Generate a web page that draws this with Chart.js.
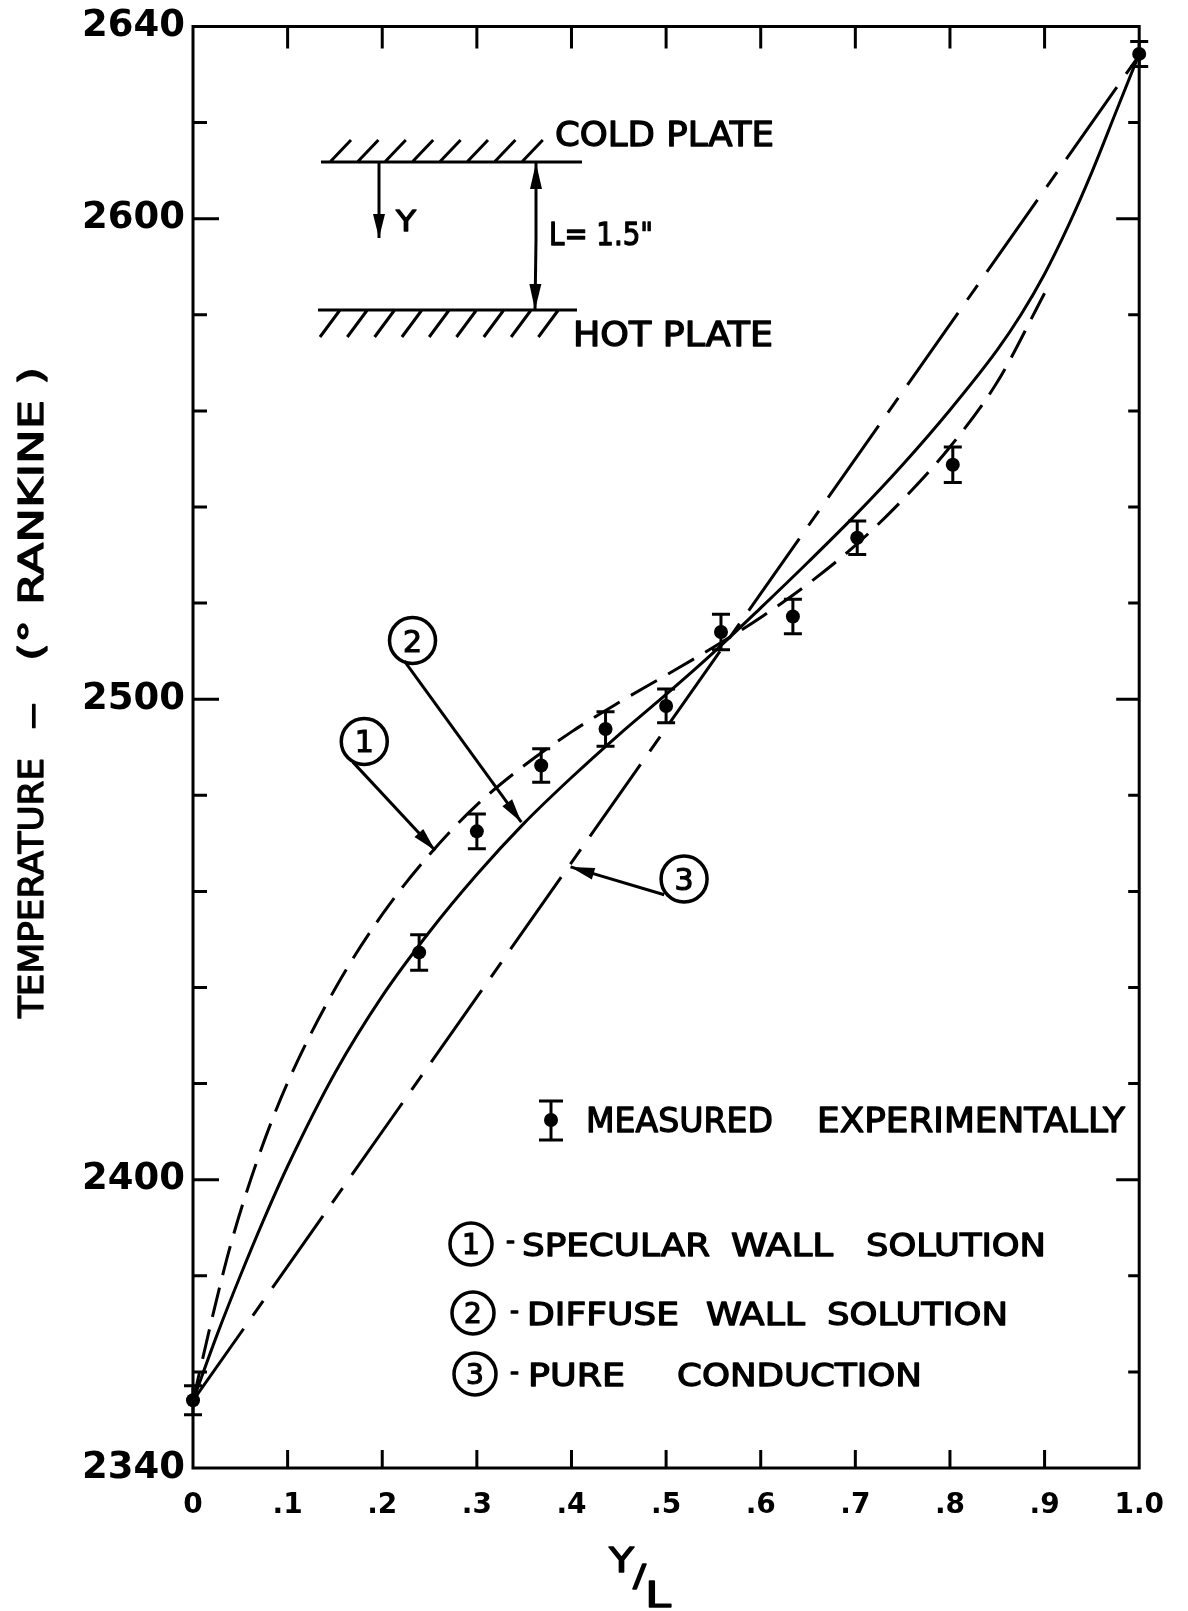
<!DOCTYPE html>
<html lang="en">
<head>
<meta charset="UTF-8">
<title>Temperature vs Y/L</title>
<style>
  body { margin: 0; padding: 0; background: #fff; }
  canvas { display: block; }
</style>
<script src="https://cdn.jsdelivr.net/npm/chart.js"></script>
</head>
<body>
<canvas id="chart" width="1188" height="1611" style="width:1188px;height:1611px"></canvas>
<script>
// ---- values ----
const xTicks = [0, 0.1, 0.2, 0.3, 0.4, 0.5, 0.6, 0.7, 0.8, 0.9, 1.0];
const xTickLabels = ['0', '.1', '.2', '.3', '.4', '.5', '.6', '.7', '.8', '.9', '1.0'];
const yTicks = [2340, 2360, 2380, 2400, 2420, 2440, 2460, 2480, 2500, 2520, 2540, 2560, 2580, 2600, 2620, 2640];
const yTickLabels = ['2340', '', '', '2400', '', '', '', '', '2500', '', '', '', '', '2600', '', '2640'];

// measured points (Y/L, temperature, half error bar)
const measuredX = [0, 0.239, 0.300, 0.368, 0.436, 0.500, 0.558, 0.634, 0.702, 0.803, 1.0];
const measuredT = [2354.1, 2447.3, 2472.5, 2486.2, 2493.8, 2498.6, 2514.0, 2517.2, 2533.6, 2548.8, 2634.3];
const measuredErr = [3.0, 3.7, 3.6, 3.5, 3.6, 3.5, 3.7, 3.6, 3.5, 3.7, 2.6];

// (1) specular wall solution - dashed, stops near Y/L = .9
const specularX = [0, 0.02, 0.04, 0.07, 0.1, 0.15, 0.2, 0.25, 0.3, 0.35, 0.4, 0.45, 0.5, 0.55, 0.6, 0.65, 0.7, 0.75, 0.8, 0.85, 0.9];
const specularT = [2354, 2371, 2386.6, 2405.2, 2420.2, 2439.7, 2455.2, 2467.7, 2478, 2486.2, 2493.2, 2499.3, 2505, 2510.8, 2517, 2524, 2532, 2541.5, 2552.5, 2566, 2584.5];

// (2) diffuse wall solution - solid
const diffuseX = [0, 0.025, 0.05, 0.075, 0.1, 0.15, 0.2, 0.25, 0.3, 0.35, 0.4, 0.45, 0.5, 0.55, 0.6, 0.65, 0.7, 0.75, 0.8, 0.85, 0.875, 0.9, 0.925, 0.95, 0.975, 1.0];
const diffuseT = [2354, 2367.5, 2380, 2391.8, 2402.8, 2422.2, 2438.2, 2451.6, 2463.5, 2474.2, 2483.7, 2492.6, 2501, 2509.7, 2519, 2528.5, 2538.3, 2548.8, 2560.2, 2572.7, 2580, 2588.5, 2598.5, 2609.7, 2622, 2634.3];

// (3) pure conduction - chain line
const conductionX = [0, 1.0];
const conductionT = [2354, 2634];

const FONT = '"DejaVu Sans", sans-serif';
const INK = '#000';

const pts = (xs, ys) => xs.map((x, i) => ({ x: x, y: ys[i] }));

// text helpers: cap height centred on yc, stretched to a width, slightly emboldened
function capText(ctx, text, x, yc, size, width) {
  ctx.font = size + 'px ' + FONT;
  const w = ctx.measureText(text).width;
  ctx.save();
  ctx.translate(x, yc + size * 0.365);
  if (width) ctx.scale(width / w, 1);
  ctx.textAlign = 'left';
  ctx.textBaseline = 'alphabetic';
  ctx.lineWidth = 1.3;
  ctx.lineJoin = 'round';
  ctx.fillText(text, 0, 0);
  ctx.strokeText(text, 0, 0);
  ctx.restore();
}

function circled(ctx, label, cx, cy, r, size) {
  ctx.save();
  ctx.lineWidth = 3.5;
  ctx.beginPath();
  ctx.arc(cx, cy, r, 0, Math.PI * 2);
  ctx.stroke();
  ctx.font = size + 'px ' + FONT;
  ctx.textAlign = 'center';
  ctx.textBaseline = 'alphabetic';
  ctx.lineWidth = 1.2;
  ctx.fillText(label, cx, cy + size * 0.365);
  ctx.strokeText(label, cx, cy + size * 0.365);
  ctx.restore();
}

function arrow(ctx, x1, y1, x2, y2, len, half) {
  ctx.beginPath();
  ctx.moveTo(x1, y1);
  ctx.lineTo(x2, y2);
  ctx.stroke();
  const a = Math.atan2(y2 - y1, x2 - x1);
  const bx = x2 - len * Math.cos(a), by = y2 - len * Math.sin(a);
  ctx.beginPath();
  ctx.moveTo(x2, y2);
  ctx.lineTo(bx + half * Math.sin(a), by - half * Math.cos(a));
  ctx.lineTo(bx - half * Math.sin(a), by + half * Math.cos(a));
  ctx.closePath();
  ctx.fill();
}

function errorBar(ctx, x, yTop, yBot, cap) {
  ctx.beginPath();
  ctx.moveTo(x, yTop); ctx.lineTo(x, yBot);
  ctx.moveTo(x - cap, yTop); ctx.lineTo(x + cap, yTop);
  ctx.moveTo(x - cap, yBot); ctx.lineTo(x + cap, yBot);
  ctx.stroke();
}

const decorations = {
  id: 'decorations',
  afterDatasetsDraw(chart) {
    const ctx = chart.ctx;
    const sx = chart.scales.x, sy = chart.scales.y;
    const a = chart.chartArea;
    ctx.save();
    ctx.strokeStyle = INK;
    ctx.fillStyle = INK;
    ctx.lineWidth = 3;
    ctx.lineCap = 'butt';

    // error bars of the measurements
    measuredX.forEach((x, i) => {
      errorBar(ctx, sx.getPixelForValue(x),
        sy.getPixelForValue(measuredT[i] + measuredErr[i]),
        sy.getPixelForValue(measuredT[i] - measuredErr[i]), 9);
    });

    // frame
    ctx.strokeRect(a.left, a.top, a.right - a.left, a.bottom - a.top);

    // inward tick marks
    ctx.beginPath();
    xTicks.forEach((v, i) => {
      if (i === 0 || i === xTicks.length - 1) return;
      const px = sx.getPixelForValue(v);
      ctx.moveTo(px, a.bottom); ctx.lineTo(px, a.bottom - 18);
      ctx.moveTo(px, a.top); ctx.lineTo(px, a.top + 22);
    });
    yTicks.forEach((v, i) => {
      if (i === 0 || i === yTicks.length - 1) return;
      const py = sy.getPixelForValue(v);
      const major = yTickLabels[i] !== '';
      ctx.moveTo(a.left, py); ctx.lineTo(a.left + (major ? 26 : 14), py);
      ctx.moveTo(a.right, py); ctx.lineTo(a.right - (major ? 23 : 11), py);
    });
    ctx.stroke();
    ctx.restore();
  },
  afterDraw(chart) {
    const ctx = chart.ctx;
    const sx = chart.scales.x, sy = chart.scales.y;
    const P = (x, t) => [sx.getPixelForValue(x), sy.getPixelForValue(t)];
    ctx.save();
    ctx.strokeStyle = INK;
    ctx.fillStyle = INK;
    ctx.lineWidth = 3;

    // axis titles
    ctx.save();
    ctx.translate(31, 1018);
    ctx.rotate(-Math.PI / 2);
    capText(ctx, 'TEMPERATURE', 0, 0, 34, 260);
    capText(ctx, '\u2014', 289, 0, 34, 26);
    capText(ctx, '(\u00b0 RANKINE )', 357, 0, 34, 294);
    ctx.restore();
    capText(ctx, 'Y', 609, 1560, 33, 25);
    capText(ctx, '/', 633, 1575, 30, 13);
    capText(ctx, 'L', 645, 1594, 35, 26);

    // callouts for the curves
    ctx.lineWidth = 3;
    [
      ['1', 0.181, 2491.2, 0.169, 2486.9, 0.256, 2468.5],
      ['2', 0.232, 2512.2, 0.2233, 2508.0, 0.347, 2474.4],
      ['3', 0.519, 2462.6, 0.498, 2459.3, 0.399, 2465.1]
    ].forEach(c => {
      const [cx, cy] = P(c[1], c[2]);
      const [fx, fy] = P(c[3], c[4]);
      const [tx, ty] = P(c[5], c[6]);
      circled(ctx, c[0], cx, cy, 23, 30);
      arrow(ctx, fx, fy, tx, ty, 24, 6);
    });

    // inset: plates
    ctx.lineWidth = 3;
    ctx.beginPath();
    ctx.moveTo(321, 162); ctx.lineTo(582, 162);
    ctx.moveTo(318, 310); ctx.lineTo(577, 310);
    for (let i = 0; i < 8; i++) {
      const bx = 330 + 27.4 * i;
      ctx.moveTo(bx, 162); ctx.lineTo(bx + 21, 140);
    }
    for (let i = 0; i < 9; i++) {
      const tx = 340 + 27.3 * i;
      ctx.moveTo(tx, 310); ctx.lineTo(tx - 20, 337);
    }
    ctx.stroke();
    arrow(ctx, 379, 163, 379, 238, 24, 6);
    arrow(ctx, 536, 240, 536, 163, 26, 6);
    arrow(ctx, 536, 240, 535, 310, 26, 6);
    capText(ctx, 'Y', 396, 221, 28, 20);
    capText(ctx, 'L= 1.5"', 549, 233, 32, 104);
    capText(ctx, 'COLD PLATE', 555, 134, 34, 219);
    capText(ctx, 'HOT PLATE', 573, 334, 33, 200);

    // legend
    ctx.lineWidth = 3;
    errorBar(ctx, 551, 1101, 1140, 12);
    ctx.beginPath();
    ctx.arc(551, 1120, 7, 0, Math.PI * 2);
    ctx.fill();
    capText(ctx, 'MEASURED', 586, 1120, 33, 187);
    capText(ctx, 'EXPERIMENTALLY', 817, 1120, 33, 308);

    circled(ctx, '1', 471, 1244, 21, 28);
    capText(ctx, '-', 506, 1240, 26, 9);
    capText(ctx, 'SPECULAR', 522, 1244, 32, 188);
    capText(ctx, 'WALL', 731, 1244, 32, 102);
    capText(ctx, 'SOLUTION', 866, 1244, 32, 180);

    circled(ctx, '2', 473, 1313, 21, 28);
    capText(ctx, '-', 510, 1310, 26, 9);
    capText(ctx, 'DIFFUSE', 527, 1313, 32, 152);
    capText(ctx, 'WALL', 706, 1313, 32, 99);
    capText(ctx, 'SOLUTION', 827, 1313, 32, 181);

    circled(ctx, '3', 475, 1374, 21, 28);
    capText(ctx, '-', 510, 1371, 26, 9);
    capText(ctx, 'PURE', 528, 1374, 32, 97);
    capText(ctx, 'CONDUCTION', 677, 1374, 32, 245);

    ctx.restore();
  }
};

new Chart(document.getElementById('chart'), {
  type: 'scatter',
  data: {
    datasets: [
      {
        label: 'Specular wall solution',
        data: pts(specularX, specularT),
        showLine: true,
        borderColor: INK,
        borderWidth: 3,
        borderDash: [30, 13],
        pointRadius: 0,
        cubicInterpolationMode: 'monotone'
      },
      {
        label: 'Diffuse wall solution',
        data: pts(diffuseX, diffuseT),
        showLine: true,
        borderColor: INK,
        borderWidth: 3,
        pointRadius: 0,
        cubicInterpolationMode: 'monotone'
      },
      {
        label: 'Pure conduction',
        data: pts(conductionX, conductionT),
        showLine: true,
        borderColor: INK,
        borderWidth: 3,
        borderDash: [88, 16, 18, 16],
        pointRadius: 0
      },
      {
        label: 'Measured experimentally',
        data: pts(measuredX, measuredT),
        showLine: false,
        pointRadius: 7,
        pointBackgroundColor: INK,
        pointBorderColor: INK,
        pointBorderWidth: 0,
        clip: false
      }
    ]
  },
  options: {
    responsive: false,
    animation: false,
    events: [],
    layout: { padding: { left: 0, right: 38, top: 22, bottom: 0 } },
    plugins: { legend: { display: false }, tooltip: { enabled: false } },
    scales: {
      x: {
        type: 'linear',
        min: 0,
        max: 1,
        afterBuildTicks: s => { s.ticks = xTicks.map(v => ({ value: v })); },
        afterFit: s => { s.height = 143; },
        grid: { display: false, drawTicks: false },
        border: { display: false },
        ticks: {
          callback: (v, i) => xTickLabels[i],
          color: INK,
          font: { family: 'DejaVu Sans', size: 28, weight: 'bold', lineHeight: 1 },
          padding: 24,
          maxRotation: 0,
          autoSkip: false
        }
      },
      y: {
        type: 'linear',
        min: 2340,
        max: 2640,
        afterBuildTicks: s => { s.ticks = yTicks.map(v => ({ value: v })); },
        afterFit: s => { s.width = 193; },
        grid: { display: false, drawTicks: false },
        border: { display: false },
        ticks: {
          callback: (v, i) => yTickLabels[i],
          color: INK,
          font: { family: 'DejaVu Sans', size: 37, weight: 'bold', lineHeight: 1 },
          padding: 8,
          autoSkip: false
        }
      }
    }
  },
  plugins: [decorations]
});
</script>
</body>
</html>
